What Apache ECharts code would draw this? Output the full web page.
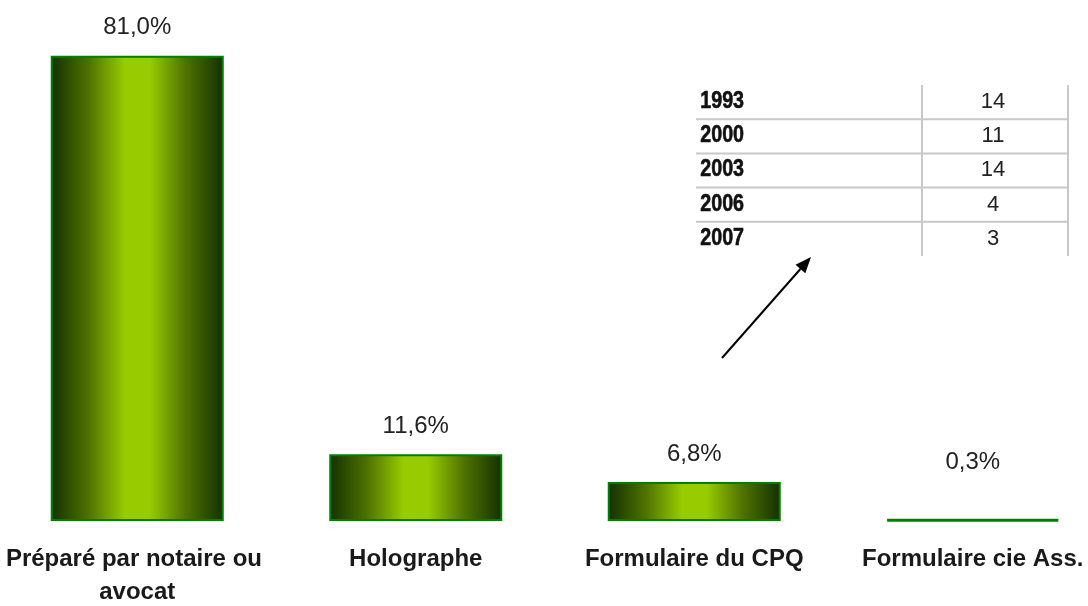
<!DOCTYPE html>
<html>
<head>
<meta charset="utf-8">
<script src="https://cdn.jsdelivr.net/npm/echarts@6/dist/echarts.min.js"></script>
<style>
    html, body { margin: 0; padding: 0; background: #fff; }
    #chart { width: 1088px; height: 606px; }
</style>
</head>
<body>
<div id="chart"></div>
<script>
// Données du graphique
var categories = ['Préparé par notaire ou avocat', 'Holographe', 'Formulaire du CPQ', 'Formulaire cie Ass.'];
var shares = [81.0, 11.6, 6.8, 0.3];

// Tableau en encart
var years = ['1993', '2000', '2003', '2006', '2007'];
var counts = [14, 11, 14, 4, 3];

document.addEventListener('DOMContentLoaded', function () {
    var chart = echarts.init(document.getElementById('chart'));

    var barColor = new echarts.graphic.LinearGradient(0, 0, 1, 0, [
        { offset: 0, color: '#143000' },
        { offset: 0.22, color: '#4f7200' },
        { offset: 0.43, color: '#99cc00' },
        { offset: 0.57, color: '#99cc00' },
        { offset: 0.78, color: '#4f7200' },
        { offset: 1, color: '#143000' }
    ]);

    var barData = shares.map(function (v, i) {
        var item = { value: v };
        if (i === 3) {
            item.label = { offset: [0, -28] };
            item.itemStyle = { borderWidth: 3 };
        }
        return item;
    });

    // Tableau : lignes, années, valeurs
    var rowTop = 85, rowH = 34.2, x0 = 696, xMid = 922, x1 = 1068;
    var graphics = [];
    years.forEach(function (y, i) {
        var cy = rowTop + rowH * i + 17;
        graphics.push({
            type: 'text', left: x0 + 4, top: cy - 13, scaleX: 0.82,
            style: { text: y, font: 'bold 24px "Liberation Sans", Arial', fill: '#111', stroke: '#111', lineWidth: 0.6 }
        });
        graphics.push({
            type: 'text', x: 993, y: cy,
            style: { text: String(counts[i]), font: '22px "Liberation Sans", Arial', fill: '#222', align: 'center', verticalAlign: 'middle' }
        });
        if (i < years.length - 1) {
            graphics.push({
                type: 'line',
                shape: { x1: x0, y1: rowTop + rowH * (i + 1), x2: x1, y2: rowTop + rowH * (i + 1) },
                style: { stroke: '#c8c8c8', lineWidth: 2 }
            });
        }
    });
    [xMid, x1].forEach(function (x) {
        graphics.push({
            type: 'line',
            shape: { x1: x, y1: rowTop, x2: x, y2: rowTop + rowH * years.length },
            style: { stroke: '#c8c8c8', lineWidth: 2 }
        });
    });

    // Flèche
    var ax = 722, ay = 358, bx = 811, by = 257;
    var dx = bx - ax, dy = by - ay, len = Math.sqrt(dx * dx + dy * dy);
    var ux = dx / len, uy = dy / len;
    var headL = 16, headW = 6.5;
    var baseX = bx - ux * headL, baseY = by - uy * headL;
    graphics.push({
        type: 'line',
        shape: { x1: ax, y1: ay, x2: baseX, y2: baseY },
        style: { stroke: '#000', lineWidth: 2 }
    });
    graphics.push({
        type: 'polygon',
        shape: { points: [[bx, by], [baseX - uy * headW, baseY + ux * headW], [baseX + uy * headW, baseY - ux * headW]] },
        style: { fill: '#000' }
    });

    var option = {
        animation: false,
        grid: {
            left: -2,
            width: 1114,
            top: 4,
            bottom: 85,
            containLabel: false,
            outerBoundsMode: 'none'
        },
        xAxis: {
            type: 'category',
            data: categories,
            axisLine: { show: false },
            axisTick: { show: false },
            axisLabel: {
                interval: 0,
                margin: 22,
                fontFamily: '"Liberation Sans", Arial',
                fontSize: 24,
                fontWeight: 'bold',
                color: '#1a1a1a',
                lineHeight: 33,
                width: 296,
                overflow: 'break'
            }
        },
        yAxis: {
            type: 'value',
            min: 0,
            max: 90,
            show: false,
            splitLine: { show: false }
        },
        series: [
            {
                type: 'bar',
                data: barData,
                barWidth: 173,
                itemStyle: {
                    color: barColor,
                    borderColor: '#008000',
                    borderWidth: 2
                },
                label: {
                    show: true,
                    position: 'top',
                    distance: 16,
                    fontFamily: '"Liberation Sans", Arial',
                    fontSize: 24,
                    color: '#222',
                    formatter: function (p) {
                        return p.value.toFixed(1).replace('.', ',') + '%';
                    }
                }
            }
        ],
        graphic: graphics
    };

    chart.setOption(option);
});
</script>
</body>
</html>
